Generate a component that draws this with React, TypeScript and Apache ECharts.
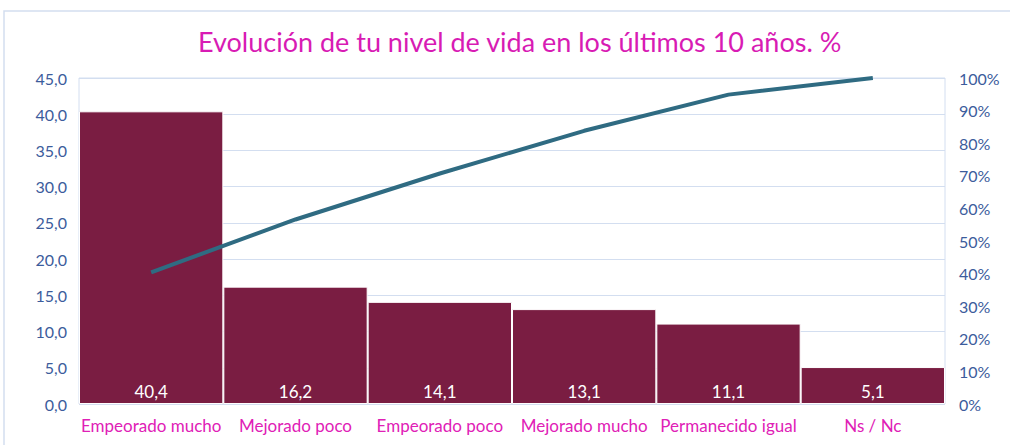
import React, { useEffect, useRef } from "react";
import * as echarts from "echarts";

const categories = ["Empeorado mucho", "Mejorado poco", "Empeorado poco", "Mejorado mucho", "Permanecido igual", "Ns / Nc"];
const values = [40.4, 16.2, 14.1, 13.1, 11.1, 5.1];
const cumulative = [40.4, 56.6, 70.7, 83.8, 94.9, 100];
const leftTicks = [0, 5, 10, 15, 20, 25, 30, 35, 40, 45];
const rightTicks = [0, 10, 20, 30, 40, 50, 60, 70, 80, 90, 100];

const FONT = "Lato, 'Open Sans', sans-serif";

export default function App() {
  const ref = useRef<HTMLDivElement>(null);
  useEffect(() => {
    document.body.style.margin = "0";
    const chart = echarts.init(ref.current!, null, { renderer: "svg" });
    chart.setOption({
      animation: false,
      backgroundColor: "#ffffff",
      title: {
        text: "Evolución de tu nivel de vida en los últimos 10 años. %",
        left: 193,
        top: 23,
        textStyle: { color: "#D81BB4", fontSize: 27, fontWeight: "normal", fontFamily: FONT },
      },
      graphic: [
        {
          type: "rect",
          shape: { x: 4, y: 11, width: 1010, height: 440 },
          style: { fill: "none", stroke: "#D3DEF0", lineWidth: 1.5 },
          silent: true,
          z: -1,
        },
      ],
      grid: { left: 79, right: 65, top: 78, bottom: 41, show: true, borderColor: "#D3DEF0", borderWidth: 1 },
      xAxis: {
        type: "category",
        data: categories,
        axisLine: { show: false },
        axisTick: { show: false },
        axisLabel: { color: "#E020B6", fontSize: 17, fontFamily: FONT, margin: 13, interval: 0 },
      },
      yAxis: [
        {
          type: "value",
          min: leftTicks[0],
          max: leftTicks[leftTicks.length - 1],
          interval: 5,
          axisLine: { show: false },
          axisTick: { show: false },
          splitLine: { lineStyle: { color: "#D3DEF0", width: 1 } },
          axisLabel: {
            color: "#3C5C9C",
            fontSize: 16,
            fontFamily: FONT,
            margin: 12,
            formatter: (v: number) => v.toFixed(1).replace(".", ","),
          },
        },
        {
          type: "value",
          min: rightTicks[0],
          max: rightTicks[rightTicks.length - 1],
          interval: 10,
          axisLine: { show: false },
          axisTick: { show: false },
          splitLine: { show: false },
          axisLabel: {
            color: "#3C5C9C",
            fontSize: 16,
            fontFamily: FONT,
            margin: 14,
            formatter: (v: number) => v + "%",
          },
        },
      ],
      series: [
        {
          type: "bar",
          data: values,
          barCategoryGap: "0%",
          itemStyle: { color: "#7A1D42", borderColor: "#ffffff", borderWidth: 1 },
          label: {
            show: true,
            position: "insideBottom",
            distance: 4,
            color: "#ffffff",
            fontSize: 17,
            fontFamily: FONT,
            formatter: (p: any) => p.value.toFixed(1).replace(".", ","),
          },
        },
        {
          type: "line",
          yAxisIndex: 1,
          data: cumulative,
          symbol: "none",
          lineStyle: { color: "#2F6B82", width: 4 },
        },
      ],
    });
    return () => chart.dispose();
  }, []);
  return <div ref={ref} style={{ width: 1010, height: 445 }} />;
}
